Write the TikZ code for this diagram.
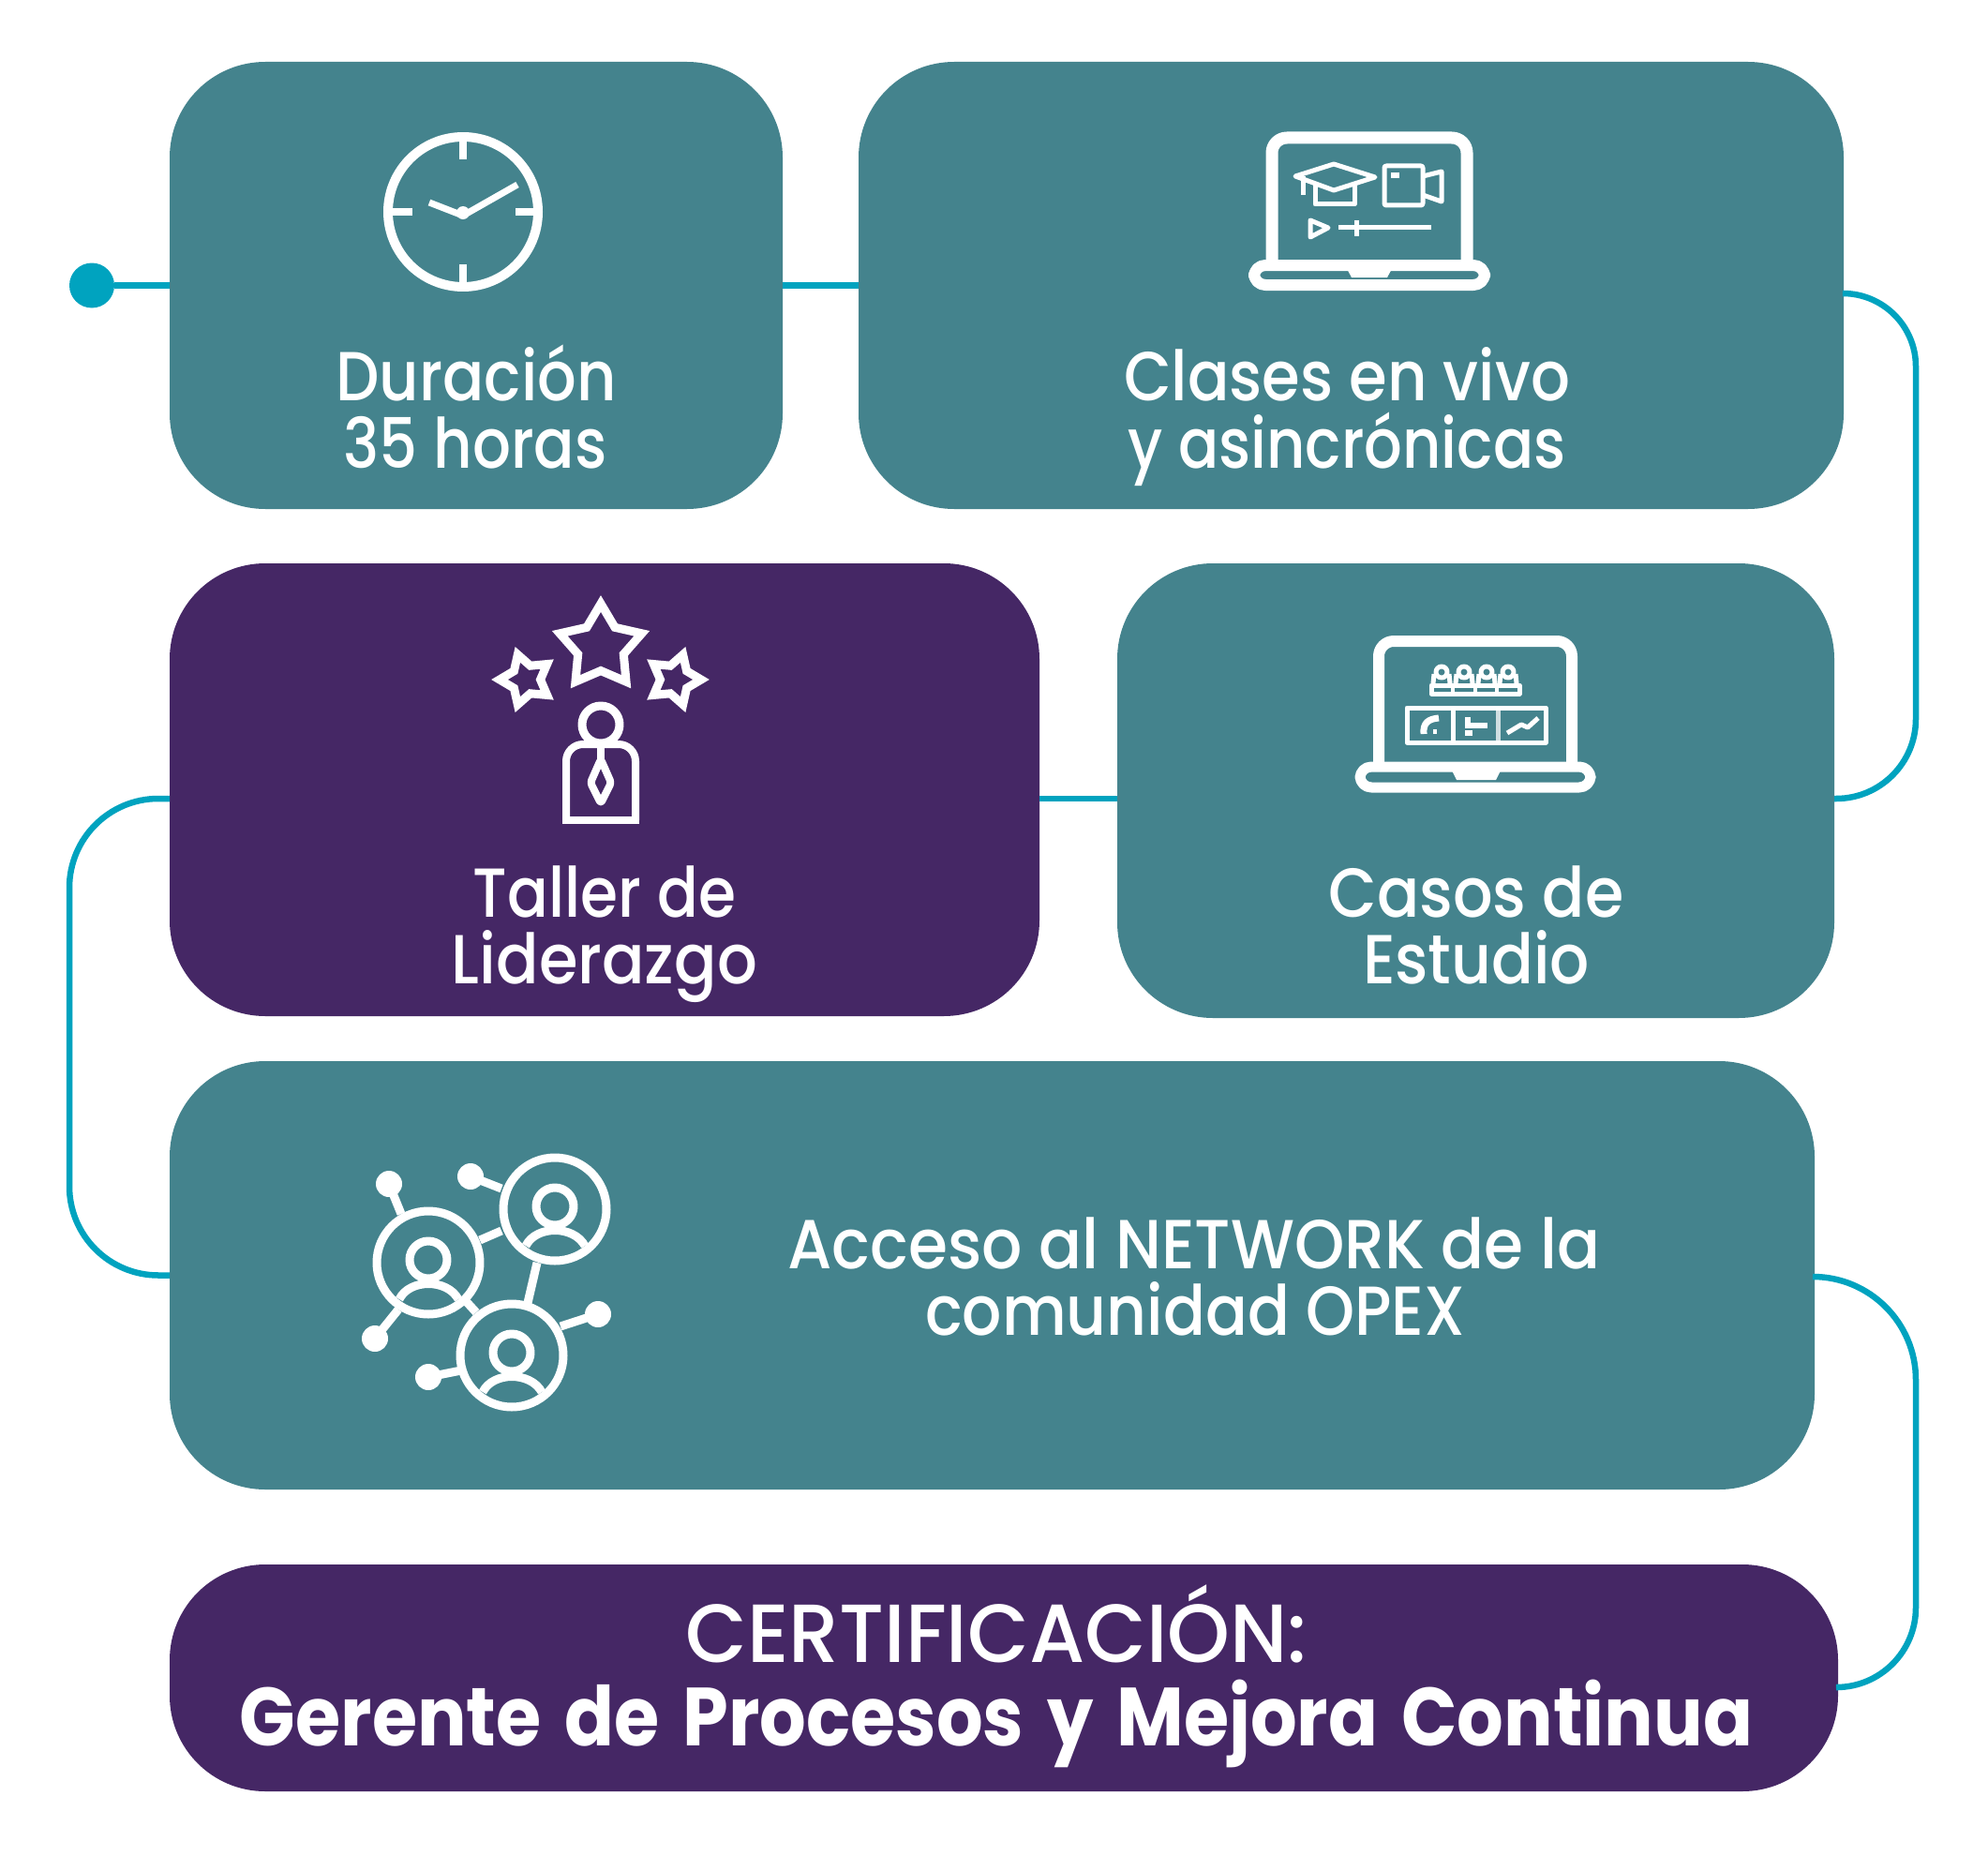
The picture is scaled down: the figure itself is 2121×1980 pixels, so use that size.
\documentclass[tikz,border=0pt]{standalone}
\usepackage{graphicx}
\usepackage{fontspec}
\setmainfont{Poppins}[UprightFont={* Medium},BoldFont={* Bold},BoldFeatures={WordSpace=1.5}]
\usetikzlibrary{shapes.geometric}
\definecolor{tealbox}{HTML}{44838D}
\definecolor{purplebox}{HTML}{452765}
\definecolor{connblue}{HTML}{00A3BF}
\newcommand{\fitw}[2]{\resizebox{#1pt}{\height}{#2}}
\tikzset{
  box/.style={rectangle,rounded corners=102pt,inner sep=0pt,outer sep=0pt,draw=none},
  tealb/.style={box,fill=tealbox},
  purpleb/.style={box,fill=purplebox},
  conn/.style={draw=connblue,line width=6.5pt},
  label/.style={anchor=base,inner sep=0pt,text=white,font=\fontsize{74pt}{74pt}\selectfont},
  ico/.style={draw=white,line width=#1,line join=round,line cap=butt},
  ico/.default=4pt,
  icostar/.style={star,star points=5,star point ratio=1.8,draw=white,line width=9pt,inner sep=0pt,outer sep=0pt,minimum size=#1,miter limit=3},
}
\begin{document}
\begin{tikzpicture}[x=1pt,y=-1pt]
\useasboundingbox[fill=white] (0,0) rectangle (2121,1980);
% boxes
\node[tealb,minimum width=654pt,minimum height=477pt] (b1) at (508,304.5) {};
\node[tealb,minimum width=1051pt,minimum height=477pt] (b2) at (1441.5,304.5) {};
\node[purpleb,minimum width=928pt,minimum height=483pt] (b3) at (645,842.5) {};
\node[tealb,minimum width=765pt,minimum height=485pt] (b4) at (1574.5,843.5) {};
\node[tealb,minimum width=1755pt,minimum height=457pt] (b5) at (1058.5,1360.5) {};
\node[purpleb,minimum width=1780pt,minimum height=242pt] (b6) at (1071,1790) {};
% connectors
\node[circle,fill=connblue,inner sep=0pt,minimum width=48pt] (start) at (98,304.5) {};
\coordinate (r1) at (2044,313);
\coordinate (r2) at (2044,852);
\coordinate (l1) at (74,852);
\coordinate (l2) at (74,1360.5);
\coordinate (r3) at (2044,1362);
\coordinate (r4) at (2044,1800);
\draw[conn] (start) -- (b1.west);
\draw[conn] (b1.east) -- (b2.west);
\draw[conn] ([yshift=-8.5pt]b2.east) [rounded corners=78pt] -- (r1) [rounded corners=85pt] -- (r2) -- ([yshift=-8.5pt]b4.east);
\draw[conn] ([yshift=-8.5pt]b4.west) -- ([yshift=-9.5pt]b3.east);
\draw[conn] ([yshift=-9.5pt]b3.west) [rounded corners=95pt] -- (l1) -- (l2) -- (b5.west);
\draw[conn] ([yshift=-1.5pt]b5.east) [rounded corners=110pt] -- (r3) [rounded corners=85pt] -- (r4) -- ([yshift=-10pt]b6.east);
% texts
\node[label] (t1a) at (508,427) {\fitw{299}{Duración}};
\node[label] (t1b) at (507,499) {\fitw{281}{35 horas}};
\node[label] (t2a) at (1437,427) {\fitw{476}{Clases en vivo}};
\node[label] (t2b) at (1437,499) {\fitw{467}{y asincrónicas}};
\node[label] (t3a) at (645,978) {\fitw{280}{Taller de}};
\node[label] (t3b) at (645,1049) {\fitw{326}{Liderazgo}};
\node[label] (t4a) at (1575,978) {\fitw{315}{Casos de}};
\node[label] (t4b) at (1575,1049) {\fitw{242}{Estudio}};
\node[label] (t5a) at (1274,1353) {\fitw{867}{Acceso al NETWORK de la}};
\node[label] (t5b) at (1275,1424) {\fitw{576}{comunidad OPEX}};
\node[label,font=\fontsize{88pt}{88pt}\selectfont] (t6a) at (1063,1773) {\fitw{663}{CERTIFICACIÓN:}};
\node[label,font=\fontsize{88pt}{88pt}\bfseries\selectfont] (t6b) at (1063,1862) {\fitw{1614}{Gerente de Procesos y Mejora Continua}};
% clock
\draw[ico=10pt] (494,226) circle (80);
\draw[ico=8pt] (494,150) -- (494,170);
\draw[ico=8pt] (494,282) -- (494,302);
\draw[ico=8pt] (418,226) -- (440,226);
\draw[ico=8pt] (550,226) -- (570,226);
\draw[ico=7pt] (458,216) -- (494,230) -- (552,197);
\fill[white] (494,227) circle (7);
% laptop 1
\draw[ico=13pt,rounded corners=16pt] (1357,280) -- (1357,147) -- (1565,147) -- (1565,280);
\draw[ico=12pt,rounded corners=12pt] (1338,283) rectangle (1584,304);
\fill[white] (1435,283) -- (1487,283) -- (1480,296) -- (1442,296) -- cycle;
\draw[ico=5pt] (1382,188) -- (1423,175) -- (1467,189) -- (1423,203) -- cycle;
\draw[ico=5pt] (1403,195) -- (1403,218) -- (1445,218) -- (1445,195);
\draw[ico=5pt] (1390,188) -- (1390,208);
\draw[ico=5pt,rounded corners=2pt] (1477,177) rectangle (1518,219);
\fill[white] (1484,184) rectangle (1493,190);
\draw[ico=5pt] (1518,188) -- (1538,183) -- (1538,215) -- (1518,208);
\draw[ico=5pt] (1398,235) -- (1398,253) -- (1417,243) -- cycle;
\draw[ico=5pt] (1428,243) -- (1527,243);
\draw[ico=5pt] (1447,235) -- (1447,252);
% laptop 2
\draw[ico=12pt,rounded corners=16pt] (1471,815) -- (1471,684) -- (1677,684) -- (1677,815);
\draw[ico=11pt,rounded corners=12pt] (1451,818) rectangle (1697,840);
\fill[white] (1547,818) -- (1603,818) -- (1596,832) -- (1554,832) -- cycle;
\foreach \px in {1538,1562,1586,1609}{
  \draw[ico=5pt] (\px,717) circle (6);
  \draw[ico=5pt] (\px-8,719) -- (\px-9,729);
  \draw[ico=5pt] (\px+8,719) -- (\px+9,729);
}
\draw[ico=5pt] (1527,731) rectangle (1621,740);
\foreach \px in {1550,1574,1597}{\draw[ico=4pt] (\px,731) -- (\px,740);}
\draw[ico=5pt] (1501,755) rectangle (1649,792);
\draw[ico=5pt] (1550,755) -- (1550,792);
\draw[draw=white,opacity=.75,line width=5pt] (1598,755) -- (1598,792);
\draw[ico=7pt] (1519,783) .. controls (1518,771) and (1524,767) .. (1535,766);
\fill[white] (1529,778) rectangle (1533,783);
\draw[ico=6pt] (1563,768) -- (1569,768);
\draw[ico=6pt] (1563,774) -- (1587,774);
\draw[ico=6pt] (1563,782) -- (1571,782);
\draw[ico=5pt] (1608,782) -- (1623,773) -- (1630,776) -- (1641,766);
% taller icon
\node[icostar=92pt] (s1) at (641,690) {};
\node[icostar=56pt,shape border rotate=90] (s2) at (561,725) {};
\node[icostar=56pt,shape border rotate=-90] (s3) at (720,725) {};
\draw[ico=9pt] (641,773) circle (20);
\draw[ico=8pt,rounded corners=18pt] (604,875) -- (604,794) -- (678,794) -- (678,875);
\draw[ico=8pt] (600,875) -- (682,875);
\draw[ico=8pt] (641,797) -- (641,812);
\draw[ico=8pt,rounded corners=3pt] (641,810) -- (630,835) -- (641,857) -- (652,835) -- cycle;
% network icon
\foreach \cx/\cy/\nm in {457/1347/A,592/1290/B,546/1446/C}{
  \draw[ico=9pt] (\cx,\cy) circle (55);
  \draw[ico=9pt] (\cx,\cy-3) circle (20);
  \draw[ico=9pt] (\cx-31,\cy+39) .. controls (\cx-20,\cy+17) and (\cx+20,\cy+17) .. (\cx+32,\cy+39);
}
\draw[ico=9pt] (512,1323) -- (535,1313);
\draw[ico=9pt] (573,1347) -- (563,1390);
\draw[ico=9pt] (497,1388) -- (508,1400);
\foreach \dx/\dy/\ex/\ey in {415/1263/428/1295,400/1428/425/1397,502/1255/535/1268,638/1402/598/1415,457/1469/492/1462}{
  \draw[ico=9pt] (\dx,\dy) -- (\ex,\ey);
  \fill[white] (\dx,\dy) circle (14);
}
\end{tikzpicture}
\end{document}
